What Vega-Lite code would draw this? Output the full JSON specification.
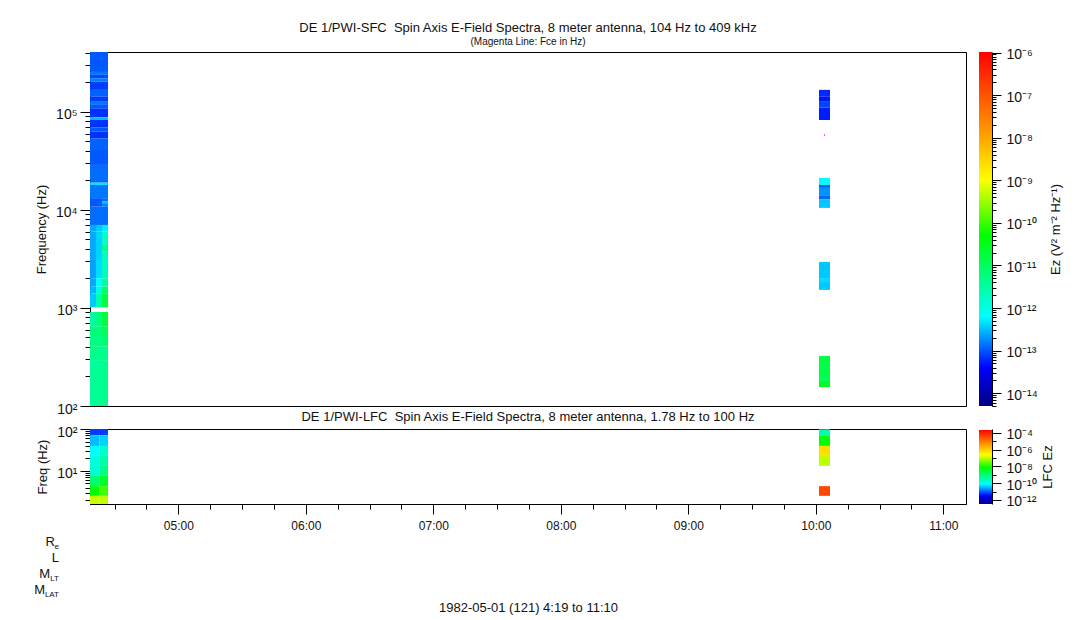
{
"$schema":"https://vega.github.io/schema/vega-lite/v6.json",
"autosize":"none",
"padding":{"left":90,"top":52,"right":993,"bottom":568},
"background":"white",
"config":{"font":"Liberation Sans","view":{"stroke":null},"axis":{"labelFont":"Liberation Sans","titleFont":"Liberation Sans","labelColor":"#111","titleColor":"#111","tickColor":"#000","domainColor":"#000","labelFontSize":12,"titleFontSize":13,"titleFontWeight":"normal","grid":false},"title":{"font":"Liberation Sans","fontWeight":"normal","fontSize":13,"color":"#111"}},
"bounds":"flush",
"columns":2,
"spacing":{"column":13,"row":23},
"resolve":{"scale":{"color":"independent"}},
"concat":[
{"width":876,"height":354,"view":{"stroke":"#000"},
"title":{"text":"DE 1/PWI-SFC\u00a0\u00a0Spin Axis E-Field Spectra, 8 meter antenna, 104 Hz to 409 kHz","subtitle":"(Magenta Line: Fce in Hz)","subtitleFont":"Liberation Sans","subtitleFontSize":10,"subtitleColor":"#111","subtitlePadding":2,"anchor":"middle","offset":5},
"layer":[
{"data":{"values":[
{"t0":"1982-05-01T04:18:27Z","t1":"1982-05-01T04:26:55Z","f0":256000,"f1":409000,"E":1.05e-13},
{"t0":"1982-05-01T04:18:27Z","t1":"1982-05-01T04:26:55Z","f0":239000,"f1":256000,"E":1.45e-13},
{"t0":"1982-05-01T04:18:27Z","t1":"1982-05-01T04:26:55Z","f0":221000,"f1":239000,"E":8.5e-14},
{"t0":"1982-05-01T04:18:27Z","t1":"1982-05-01T04:26:55Z","f0":204000,"f1":221000,"E":1.62e-13},
{"t0":"1982-05-01T04:18:27Z","t1":"1982-05-01T04:26:55Z","f0":168000,"f1":204000,"E":7.6e-14},
{"t0":"1982-05-01T04:18:27Z","t1":"1982-05-01T04:26:55Z","f0":143000,"f1":168000,"E":1.17e-13},
{"t0":"1982-05-01T04:18:27Z","t1":"1982-05-01T04:26:55Z","f0":127000,"f1":143000,"E":7.6e-14},
{"t0":"1982-05-01T04:18:27Z","t1":"1982-05-01T04:26:55Z","f0":118000,"f1":127000,"E":1.45e-13},
{"t0":"1982-05-01T04:18:27Z","t1":"1982-05-01T04:26:55Z","f0":109000,"f1":118000,"E":1.05e-13},
{"t0":"1982-05-01T04:18:27Z","t1":"1982-05-01T04:26:55Z","f0":88300,"f1":109000,"E":6.9e-14},
{"t0":"1982-05-01T04:18:27Z","t1":"1982-05-01T04:26:55Z","f0":82800,"f1":88300,"E":3.1e-13},
{"t0":"1982-05-01T04:18:27Z","t1":"1982-05-01T04:26:55Z","f0":69800,"f1":82800,"E":6.9e-14},
{"t0":"1982-05-01T04:18:27Z","t1":"1982-05-01T04:26:55Z","f0":63000,"f1":69800,"E":1.05e-13},
{"t0":"1982-05-01T04:18:27Z","t1":"1982-05-01T04:26:55Z","f0":53900,"f1":63000,"E":6.9e-14},
{"t0":"1982-05-01T04:18:27Z","t1":"1982-05-01T04:26:55Z","f0":40900,"f1":53900,"E":1.17e-13},
{"t0":"1982-05-01T04:18:27Z","t1":"1982-05-01T04:26:55Z","f0":28800,"f1":40900,"E":1.05e-13},
{"t0":"1982-05-01T04:18:27Z","t1":"1982-05-01T04:26:55Z","f0":20200,"f1":28800,"E":1.3e-13},
{"t0":"1982-05-01T04:18:27Z","t1":"1982-05-01T04:26:55Z","f0":19000,"f1":20200,"E":1.17e-13},
{"t0":"1982-05-01T04:18:27Z","t1":"1982-05-01T04:26:55Z","f0":18000,"f1":19000,"E":4.8e-13},
{"t0":"1982-05-01T04:18:27Z","t1":"1982-05-01T04:26:55Z","f0":13200,"f1":18000,"E":1.45e-13},
{"t0":"1982-05-01T04:18:27Z","t1":"1982-05-01T04:24:06Z","f0":10800,"f1":13200,"E":1.05e-13},
{"t0":"1982-05-01T04:24:06Z","t1":"1982-05-01T04:26:55Z","f0":12200,"f1":13200,"E":1.3e-13},
{"t0":"1982-05-01T04:24:06Z","t1":"1982-05-01T04:26:55Z","f0":11700,"f1":12200,"E":3.1e-13},
{"t0":"1982-05-01T04:24:06Z","t1":"1982-05-01T04:26:55Z","f0":10800,"f1":11700,"E":1.62e-13},
{"t0":"1982-05-01T04:18:27Z","t1":"1982-05-01T04:26:55Z","f0":7030,"f1":10800,"E":1.3e-13},
{"t0":"1982-05-01T04:18:27Z","t1":"1982-05-01T04:21:16Z","f0":6010,"f1":7030,"E":2.5e-13},
{"t0":"1982-05-01T04:21:16Z","t1":"1982-05-01T04:24:06Z","f0":6010,"f1":7030,"E":3.5e-13},
{"t0":"1982-05-01T04:24:06Z","t1":"1982-05-01T04:26:55Z","f0":6010,"f1":7030,"E":5.4e-13},
{"t0":"1982-05-01T04:18:27Z","t1":"1982-05-01T04:21:16Z","f0":3090,"f1":6010,"E":2.5e-13},
{"t0":"1982-05-01T04:21:16Z","t1":"1982-05-01T04:24:06Z","f0":3090,"f1":6010,"E":3.9e-13},
{"t0":"1982-05-01T04:24:06Z","t1":"1982-05-01T04:26:55Z","f0":4400,"f1":6010,"E":1.6e-12},
{"t0":"1982-05-01T04:24:06Z","t1":"1982-05-01T04:26:55Z","f0":3750,"f1":4400,"E":4.6e-12},
{"t0":"1982-05-01T04:24:06Z","t1":"1982-05-01T04:26:55Z","f0":3090,"f1":3750,"E":1.9e-12},
{"t0":"1982-05-01T04:18:27Z","t1":"1982-05-01T04:21:16Z","f0":2010,"f1":3090,"E":2.3e-13},
{"t0":"1982-05-01T04:21:16Z","t1":"1982-05-01T04:24:06Z","f0":2010,"f1":3090,"E":4.3e-13},
{"t0":"1982-05-01T04:24:06Z","t1":"1982-05-01T04:26:55Z","f0":2010,"f1":3090,"E":1.9e-12},
{"t0":"1982-05-01T04:18:27Z","t1":"1982-05-01T04:21:16Z","f0":1650,"f1":2010,"E":2.5e-13},
{"t0":"1982-05-01T04:21:16Z","t1":"1982-05-01T04:24:06Z","f0":1650,"f1":2010,"E":6.3e-13},
{"t0":"1982-05-01T04:24:06Z","t1":"1982-05-01T04:26:55Z","f0":1650,"f1":2010,"E":2.7e-12},
{"t0":"1982-05-01T04:18:27Z","t1":"1982-05-01T04:21:16Z","f0":1410,"f1":1650,"E":2.8e-13},
{"t0":"1982-05-01T04:21:16Z","t1":"1982-05-01T04:24:06Z","f0":1410,"f1":1650,"E":1.15e-12},
{"t0":"1982-05-01T04:24:06Z","t1":"1982-05-01T04:26:55Z","f0":1410,"f1":1650,"E":7.6e-12},
{"t0":"1982-05-01T04:18:27Z","t1":"1982-05-01T04:21:16Z","f0":1016,"f1":1410,"E":3.5e-13},
{"t0":"1982-05-01T04:21:16Z","t1":"1982-05-01T04:24:06Z","f0":1016,"f1":1410,"E":2.7e-12},
{"t0":"1982-05-01T04:24:06Z","t1":"1982-05-01T04:26:55Z","f0":1016,"f1":1410,"E":1.8e-11},
{"t0":"1982-05-01T04:18:27Z","t1":"1982-05-01T04:21:16Z","f0":644,"f1":910,"E":3.2e-12},
{"t0":"1982-05-01T04:21:16Z","t1":"1982-05-01T04:24:06Z","f0":644,"f1":910,"E":5.4e-12},
{"t0":"1982-05-01T04:24:06Z","t1":"1982-05-01T04:26:55Z","f0":644,"f1":910,"E":1.8e-11},
{"t0":"1982-05-01T04:18:27Z","t1":"1982-05-01T04:24:06Z","f0":530,"f1":644,"E":6.4e-12},
{"t0":"1982-05-01T04:24:06Z","t1":"1982-05-01T04:26:55Z","f0":530,"f1":644,"E":1.07e-11},
{"t0":"1982-05-01T04:18:27Z","t1":"1982-05-01T04:24:06Z","f0":403,"f1":530,"E":5.4e-12},
{"t0":"1982-05-01T04:24:06Z","t1":"1982-05-01T04:26:55Z","f0":403,"f1":530,"E":7.6e-12},
{"t0":"1982-05-01T04:18:27Z","t1":"1982-05-01T04:26:55Z","f0":294,"f1":403,"E":4.6e-12},
{"t0":"1982-05-01T04:18:27Z","t1":"1982-05-01T04:24:06Z","f0":100,"f1":294,"E":3.8e-12},
{"t0":"1982-05-01T04:24:06Z","t1":"1982-05-01T04:26:55Z","f0":100,"f1":294,"E":4.6e-12},
{"t0":"1982-05-01T10:01:30Z","t1":"1982-05-01T10:06:41Z","f0":143000,"f1":168000,"E":6.2e-14},
{"t0":"1982-05-01T10:01:30Z","t1":"1982-05-01T10:06:41Z","f0":127000,"f1":143000,"E":4.9e-14},
{"t0":"1982-05-01T10:01:30Z","t1":"1982-05-01T10:06:41Z","f0":111000,"f1":127000,"E":8.5e-14},
{"t0":"1982-05-01T10:01:30Z","t1":"1982-05-01T10:06:41Z","f0":82800,"f1":111000,"E":5.5e-14},
{"t0":"1982-05-01T10:01:30Z","t1":"1982-05-01T10:06:41Z","f0":18000,"f1":21200,"E":6.3e-13},
{"t0":"1982-05-01T10:01:30Z","t1":"1982-05-01T10:06:41Z","f0":16800,"f1":18000,"E":1.17e-13},
{"t0":"1982-05-01T10:01:30Z","t1":"1982-05-01T10:06:41Z","f0":13900,"f1":16800,"E":2.0e-13},
{"t0":"1982-05-01T10:01:30Z","t1":"1982-05-01T10:06:41Z","f0":12900,"f1":13900,"E":1.17e-13},
{"t0":"1982-05-01T10:01:30Z","t1":"1982-05-01T10:06:41Z","f0":10500,"f1":12900,"E":3.5e-13},
{"t0":"1982-05-01T10:01:30Z","t1":"1982-05-01T10:06:41Z","f0":2020,"f1":2950,"E":3.5e-13},
{"t0":"1982-05-01T10:01:30Z","t1":"1982-05-01T10:06:41Z","f0":1840,"f1":2020,"E":4.3e-13},
{"t0":"1982-05-01T10:01:30Z","t1":"1982-05-01T10:06:41Z","f0":1530,"f1":1840,"E":3.5e-13},
{"t0":"1982-05-01T10:01:30Z","t1":"1982-05-01T10:06:41Z","f0":193,"f1":324,"E":1.5e-11},
{"t0":"1982-05-01T10:01:30Z","t1":"1982-05-01T10:06:41Z","f0":180,"f1":193,"E":8.9e-12},
{"t0":"1982-05-01T10:01:30Z","t1":"1982-05-01T10:06:41Z","f0":156,"f1":180,"E":3e-11}
]},
"mark":{"type":"rect"},
"encoding":{
"x":{"field":"t0","type":"temporal","axis":null,"scale":{"type":"utc","domain":["1982-05-01T04:18:27Z","1982-05-01T11:10:41Z"]}},
"x2":{"field":"t1"},
"y":{"field":"f0","type":"quantitative","scale":{"type":"log","domain":[100,409000],"nice":false},
"axis":{"title":"Frequency (Hz)","values":[100,200,300,400,500,600,700,800,900,1000,2000,3000,4000,5000,6000,7000,8000,9000,10000,20000,30000,40000,50000,60000,70000,80000,90000,100000,200000,300000,400000],"tickSize":{"condition":{"test":"abs(log(datum.value)/LN10-round(log(datum.value)/LN10))<0.001","value":10},"value":5},"labelExpr":"datum.value==100?'10²':datum.value==1000?'10³':datum.value==10000?'10⁴':datum.value==100000?'10⁵':''","labelFontSize":14,"labelPadding":3,"labelOffset":3,"titlePadding":7,"domainColor":"#000"}},
"y2":{"field":"f1"},
"color":{"field":"E","type":"quantitative","legend":null,"scale":{"type":"log","nice":false,"clamp":true,"interpolate":"rgb","domain":[5e-15,4e-14,6.3e-13,5e-11,1e-9,1e-8,1e-6],"range":["#000080","#0000ff","#00ffff","#00ff00","#ffff00","#ffa500","#ff0000"]}}
}},
{"data":{"values":[{"t":"1982-05-01T10:04:06Z","fce":58300}]},
"mark":{"type":"point","filled":true,"size":2,"color":"#ff00ff","opacity":1},
"encoding":{"x":{"field":"t","type":"temporal"},"y":{"field":"fce","type":"quantitative"}}}
]},
{"width":13,"height":354,
"data":{"values":[{"lo":5e-15,"hi":1.03e-6}]},
"mark":{"type":"rect","fill":{"gradient":"linear","x1":0,"y1":1,"x2":0,"y2":0,"stops":[{"offset":0,"color":"#000080"},{"offset":0.108,"color":"#0000ff"},{"offset":0.253,"color":"#00ffff"},{"offset":0.482,"color":"#00ff00"},{"offset":0.639,"color":"#ffff00"},{"offset":0.759,"color":"#ffa500"},{"offset":1,"color":"#ff0000"}]}},
"encoding":{
"y":{"field":"lo","type":"quantitative","scale":{"type":"log","domain":[5e-15,1.03e-6],"nice":false},
"axis":{"orient":"right","title":"Ez (V² m⁻² Hz⁻¹)","titleAngle":-90,"titleAlign":"center","titleBaseline":"bottom","values":[5e-15,6e-15,7e-15,8e-15,9e-15,1e-14,2e-14,3e-14,4e-14,5e-14,6e-14,7e-14,8e-14,9e-14,1e-13,2e-13,3e-13,4e-13,5e-13,6e-13,7e-13,8e-13,9e-13,1e-12,2e-12,3e-12,4e-12,5e-12,6e-12,7e-12,8e-12,9e-12,1e-11,2e-11,3e-11,4e-11,5e-11,6e-11,7e-11,8e-11,9e-11,1e-10,2e-10,3e-10,4e-10,5e-10,6e-10,7e-10,8e-10,9e-10,1e-9,2e-9,3e-9,4e-9,5e-9,6e-9,7e-9,8e-9,9e-9,1e-8,2e-8,3e-8,4e-8,5e-8,6e-8,7e-8,8e-8,9e-8,1e-7,2e-7,3e-7,4e-7,5e-7,6e-7,7e-7,8e-7,9e-7,1e-6],"tickSize":{"condition":{"test":"abs(log(datum.value)/LN10-round(log(datum.value)/LN10))<0.001","value":9},"value":4},"labelExpr":"abs(log(datum.value)/LN10-round(log(datum.value)/LN10))<0.001?['10⁻¹⁴','10⁻¹³','10⁻¹²','10⁻¹¹','10⁻¹⁰','10⁻⁹','10⁻⁸','10⁻⁷','10⁻⁶'][round(log(datum.value)/LN10)+14]:''","labelFontSize":14,"labelPadding":5,"labelOffset":2,"titlePadding":25}},
"y2":{"field":"hi"}
}},
{"width":876,"height":75,"view":{"stroke":"#000"},
"title":{"text":"DE 1/PWI-LFC\u00a0\u00a0Spin Axis E-Field Spectra, 8 meter antenna, 1.78 Hz to 100 Hz","anchor":"middle","offset":1},
"data":{"values":[
{"t0":"1982-05-01T04:18:27Z","t1":"1982-05-01T04:26:55Z","f0":70.8,"f1":100,"E":6e-12},
{"t0":"1982-05-01T04:18:27Z","t1":"1982-05-01T04:22:50Z","f0":39.4,"f1":70.8,"E":2.7e-11},
{"t0":"1982-05-01T04:22:50Z","t1":"1982-05-01T04:26:55Z","f0":39.4,"f1":70.8,"E":3.4e-11},
{"t0":"1982-05-01T04:18:27Z","t1":"1982-05-01T04:22:50Z","f0":22.8,"f1":39.4,"E":5.8e-11},
{"t0":"1982-05-01T04:22:50Z","t1":"1982-05-01T04:26:55Z","f0":22.8,"f1":39.4,"E":1.55e-10},
{"t0":"1982-05-01T04:18:27Z","t1":"1982-05-01T04:22:50Z","f0":13.2,"f1":22.8,"E":1.07e-10},
{"t0":"1982-05-01T04:22:50Z","t1":"1982-05-01T04:26:55Z","f0":13.2,"f1":22.8,"E":2.7e-10},
{"t0":"1982-05-01T04:18:27Z","t1":"1982-05-01T04:22:50Z","f0":7.61,"f1":13.2,"E":1.3e-10},
{"t0":"1982-05-01T04:22:50Z","t1":"1982-05-01T04:26:55Z","f0":7.61,"f1":13.2,"E":5.6e-10},
{"t0":"1982-05-01T04:18:27Z","t1":"1982-05-01T04:22:50Z","f0":4.32,"f1":7.61,"E":8.1e-10},
{"t0":"1982-05-01T04:22:50Z","t1":"1982-05-01T04:26:55Z","f0":4.32,"f1":7.61,"E":2.9e-9},
{"t0":"1982-05-01T04:18:27Z","t1":"1982-05-01T04:22:50Z","f0":2.54,"f1":4.32,"E":6e-9},
{"t0":"1982-05-01T04:22:50Z","t1":"1982-05-01T04:26:55Z","f0":2.54,"f1":4.32,"E":1.3e-8},
{"t0":"1982-05-01T04:18:27Z","t1":"1982-05-01T04:22:50Z","f0":1.62,"f1":2.54,"E":7.4e-8},
{"t0":"1982-05-01T04:22:50Z","t1":"1982-05-01T04:26:55Z","f0":1.62,"f1":2.54,"E":6.6e-8},
{"t0":"1982-05-01T10:01:30Z","t1":"1982-05-01T10:06:41Z","f0":70.8,"f1":98.4,"E":2.7e-10},
{"t0":"1982-05-01T10:01:30Z","t1":"1982-05-01T10:06:41Z","f0":39.4,"f1":70.8,"E":6e-9},
{"t0":"1982-05-01T10:01:30Z","t1":"1982-05-01T10:06:41Z","f0":22.8,"f1":39.4,"E":3.5e-7},
{"t0":"1982-05-01T10:01:30Z","t1":"1982-05-01T10:06:41Z","f0":13.2,"f1":22.8,"E":6.6e-8},
{"t0":"1982-05-01T10:01:30Z","t1":"1982-05-01T10:06:41Z","f0":2.54,"f1":4.32,"E":2.9e-5}
]},
"mark":{"type":"rect"},
"encoding":{
"x":{"field":"t0","type":"temporal","scale":{"type":"utc","domain":["1982-05-01T04:18:27Z","1982-05-01T11:10:41Z"]},
"axis":{"title":"1982-05-01 (121) 4:19 to 11:10","titlePadding":70,"values":["1982-05-01T04:30:00Z","1982-05-01T04:45:00Z","1982-05-01T05:00:00Z","1982-05-01T05:15:00Z","1982-05-01T05:30:00Z","1982-05-01T05:45:00Z","1982-05-01T06:00:00Z","1982-05-01T06:15:00Z","1982-05-01T06:30:00Z","1982-05-01T06:45:00Z","1982-05-01T07:00:00Z","1982-05-01T07:15:00Z","1982-05-01T07:30:00Z","1982-05-01T07:45:00Z","1982-05-01T08:00:00Z","1982-05-01T08:15:00Z","1982-05-01T08:30:00Z","1982-05-01T08:45:00Z","1982-05-01T09:00:00Z","1982-05-01T09:15:00Z","1982-05-01T09:30:00Z","1982-05-01T09:45:00Z","1982-05-01T10:00:00Z","1982-05-01T10:15:00Z","1982-05-01T10:30:00Z","1982-05-01T10:45:00Z","1982-05-01T11:00:00Z"],"tickSize":{"condition":{"test":"utcminutes(datum.value)==0","value":10},"value":5},"labelExpr":"utcminutes(datum.value)==0?utcFormat(datum.value,'%H:%M'):''","labelPadding":6,"labelFlush":false,"labelOverlap":false}},
"x2":{"field":"t1"},
"y":{"field":"f0","type":"quantitative","scale":{"type":"log","domain":[1.62,100],"nice":false},
"axis":{"title":"Freq (Hz)","values":[2,3,4,5,6,7,8,9,10,20,30,40,50,60,70,80,90,100],"tickSize":{"condition":{"test":"datum.value==10||datum.value==100","value":10},"value":5},"labelExpr":"datum.value==10?'10¹':datum.value==100?'10²':''","labelFontSize":14,"labelPadding":3,"labelOffset":3,"titlePadding":7}},
"y2":{"field":"f1"},
"color":{"field":"E","type":"quantitative","legend":null,"scale":{"type":"log","nice":false,"clamp":true,"interpolate":"rgb","domain":[3.3e-13,2.95e-12,5.75e-11,6e-9,1.48e-7,1.7e-6,2.3e-4],"range":["#000080","#0000ff","#00ffff","#00ff00","#ffff00","#ffa500","#ff0000"]}}
}},
{"width":13,"height":75,
"data":{"values":[{"lo":3.3e-13,"hi":2.3e-4}]},
"mark":{"type":"rect","fill":{"gradient":"linear","x1":0,"y1":1,"x2":0,"y2":0,"stops":[{"offset":0,"color":"#000080"},{"offset":0.11,"color":"#0000ff"},{"offset":0.269,"color":"#00ffff"},{"offset":0.495,"color":"#00ff00"},{"offset":0.665,"color":"#ffff00"},{"offset":0.79,"color":"#ffa500"},{"offset":1,"color":"#ff0000"}]}},
"encoding":{
"y":{"field":"lo","type":"quantitative","scale":{"type":"log","domain":[3.3e-13,3e-4],"nice":false},
"axis":{"orient":"right","title":"LFC Ez","titleAngle":-90,"titleAlign":"center","titleBaseline":"bottom","values":[1e-12,1e-11,1e-10,1e-9,1e-8,1e-7,1e-6,1e-5,1e-4],"tickSize":{"condition":{"test":"abs(round(log(datum.value)/LN10))%2==0","value":9},"value":4},"labelExpr":"abs(round(log(datum.value)/LN10))%2==0?['10⁻¹²','','10⁻¹⁰','','10⁻⁸','','10⁻⁶','','10⁻⁴'][round(log(datum.value)/LN10)+12]:''","labelFontSize":14,"labelPadding":5,"labelOffset":2,"titlePadding":18}},
"y2":{"field":"hi"}
}},
{"width":876,"height":72,
"data":{"values":[
{"t":"1982-05-01T04:18:27Z","row":"Re","main":"R","sub":"e"},
{"t":"1982-05-01T04:18:27Z","row":"L","main":"L","sub":""},
{"t":"1982-05-01T04:18:27Z","row":"MLT","main":"M","sub":"LT"},
{"t":"1982-05-01T04:18:27Z","row":"MLAT","main":"M","sub":"LAT"}
]},
"encoding":{
"x":{"field":"t","type":"temporal","axis":null,"scale":{"type":"utc","domain":["1982-05-01T04:18:27Z","1982-05-01T11:10:41Z"]}},
"y":{"field":"row","type":"nominal","axis":null,"scale":{"type":"point","domain":["Re","L","MLT","MLAT"],"padding":0.75,"align":0.62}}
},
"layer":[
{"mark":{"type":"text","align":"right","baseline":"middle","fontSize":8,"dx":-31,"dy":5,"color":"#111"},"encoding":{"text":{"field":"sub"}}},
{"transform":[{"filter":"datum.row=='Re'"}],"mark":{"type":"text","align":"right","baseline":"middle","fontSize":13,"dx":-35,"color":"#111"},"encoding":{"text":{"field":"main"}}},
{"transform":[{"filter":"datum.row=='L'"}],"mark":{"type":"text","align":"right","baseline":"middle","fontSize":13,"dx":-31,"color":"#111"},"encoding":{"text":{"field":"main"}}},
{"transform":[{"filter":"datum.row=='MLT'"}],"mark":{"type":"text","align":"right","baseline":"middle","fontSize":13,"dx":-40,"color":"#111"},"encoding":{"text":{"field":"main"}}},
{"transform":[{"filter":"datum.row=='MLAT'"}],"mark":{"type":"text","align":"right","baseline":"middle","fontSize":13,"dx":-45,"color":"#111"},"encoding":{"text":{"field":"main"}}}
]}
]}
